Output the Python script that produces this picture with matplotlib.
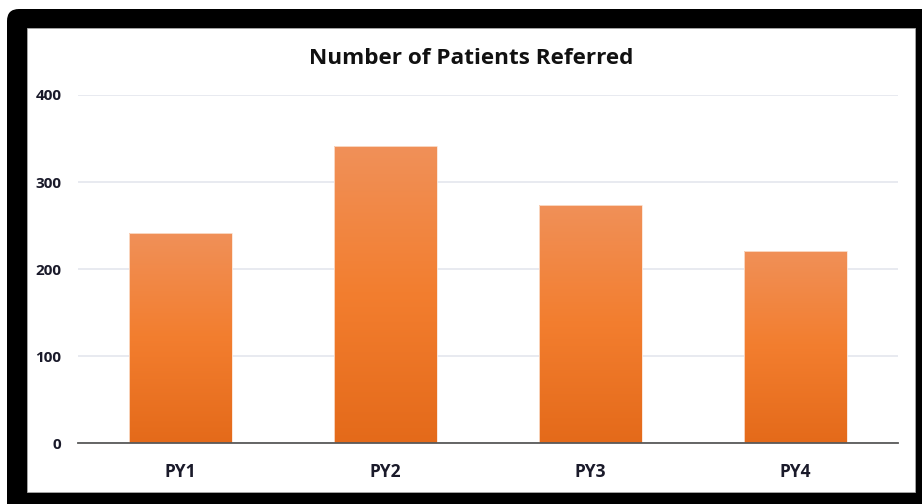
import matplotlib.pyplot as plt
import numpy as np
from matplotlib.colors import LinearSegmentedColormap
from matplotlib.patches import FancyBboxPatch, Rectangle

categories = ['PY1', 'PY2', 'PY3', 'PY4']
patients = [241, 341, 274, 221]
yticks = [0, 100, 200, 300, 400]

fig = plt.figure(figsize=(9.22, 5.04), dpi=100)
W, H = 922, 504

# background axes in pixel units for the black frame
bg = fig.add_axes([0, 0, 1, 1], zorder=0)
bg.set_xlim(0, W)
bg.set_ylim(H, 0)
bg.axis('off')
bg.add_patch(FancyBboxPatch((7, 9), 940, 520,
                            boxstyle='round,pad=0,rounding_size=12',
                            facecolor='black', edgecolor='none'))
bg.add_patch(Rectangle((27, 28), 915 - 27, 492 - 28, facecolor='white',
                       edgecolor='#aaaaaa', linewidth=0.6))

ax = fig.add_axes([78 / W, (504 - 443.3) / H, 820 / W, (443.3 - 95) / H], zorder=2)
ax.set_facecolor('none')

cmap = LinearSegmentedColormap.from_list('orange', ['#E46A1A', '#F37E2F', '#F0915A'])
grad = np.linspace(0, 1, 256).reshape(-1, 1)

x = np.arange(len(categories))
width = 0.5
bars = ax.bar(x, patients, width=width, color='none', edgecolor='#FBE3D3',
              linewidth=0.6, zorder=3)
ymax = max(patients)
for b in bars:
    x0 = b.get_x()
    im = ax.imshow(grad, cmap=cmap, origin='lower', aspect='auto',
                   extent=[x0, x0 + b.get_width(), 0, b.get_height() + 5],
                   zorder=2)
    im.set_clip_path(b)

ax.set_xlim(-0.5, len(categories) - 0.5)
ax.set_ylim(0, 400)
ax.set_yticks(yticks)
ax.set_xticks(x)
ax.set_xticklabels(categories)

for s in ['top', 'right', 'left']:
    ax.spines[s].set_visible(False)
ax.spines['bottom'].set_color('#595959')
ax.spines['bottom'].set_linewidth(1.3)
ax.spines['bottom'].set_zorder(4)

ax.yaxis.grid(True, color='#E4E6EE', linewidth=1.2, zorder=0)
ax.set_axisbelow(True)
ax.tick_params(axis='both', length=0, colors='#1a1a2a')
ax.tick_params(axis='y', pad=12, labelsize=11)
ax.tick_params(axis='x', pad=14, labelsize=12.5)
for lbl in ax.get_xticklabels() + ax.get_yticklabels():
    lbl.set_fontfamily('Open Sans')
    lbl.set_fontweight('bold')

fig.text(471 / W, 1 - 58 / H, 'Number of Patients Referred', ha='center',
         va='center', fontsize=16.2, fontweight='bold', family='Open Sans',
         color='#111111')

fig.savefig('out.png', dpi=100)
